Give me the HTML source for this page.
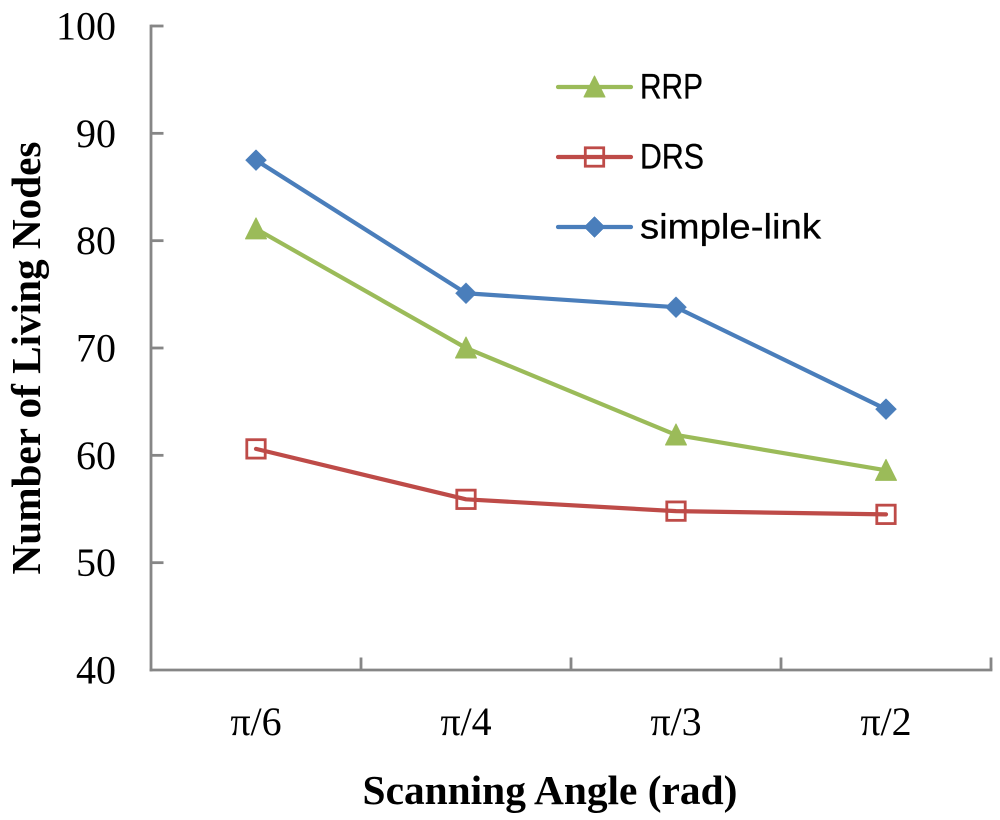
<!DOCTYPE html>
<html lang="en">
<head>
<meta charset="utf-8">
<title>Number of Living Nodes vs Scanning Angle</title>
<style>
html,body{margin:0;padding:0;background:#fff;width:1000px;height:820px;overflow:hidden}
svg{display:block}
.serif{font-family:"Liberation Serif",serif;fill:#000}
.sans{font-family:"Liberation Sans",sans-serif;fill:#000;stroke:#000;stroke-width:0.3}
</style>
</head>
<body>
<svg id="chart" xmlns="http://www.w3.org/2000/svg" width="1000" height="820" viewBox="0 0 1000 820">
  <g id="marks"></g>
  <text class="serif" x="550" y="804" font-size="41.4" font-weight="bold" text-anchor="middle">Scanning Angle (rad)</text>
  <text class="serif" transform="translate(40,358) rotate(-90)" font-size="41.2" font-weight="bold" text-anchor="middle">Number of Living Nodes</text>
</svg>
<script>
const categories = ['π/6', 'π/4', 'π/3', 'π/2'];
const yTicks = [40, 50, 60, 70, 80, 90, 100];
const rrpValues = [81.1, 70.0, 61.9, 58.6];
const drsValues = [60.6, 55.9, 54.8, 54.5];
const simpleLinkValues = [87.5, 75.1, 73.8, 64.3];
const seriesNames = ['RRP', 'DRS', 'simple-link'];

const NS = 'http://www.w3.org/2000/svg';
const root = document.getElementById('marks');
const left = 151, right = 991, top_ = 26, bottom = 670;
const yMin = 40, yMax = 100;
const band = (right - left) / categories.length;
const xScale = i => left + band * (i + 0.5);
const yScale = v => bottom - (v - yMin) / (yMax - yMin) * (bottom - top_);

function make(tag, attrs, parent) {
  const el = document.createElementNS(NS, tag);
  for (const k in attrs) el.setAttribute(k, attrs[k]);
  (parent || root).appendChild(el);
  return el;
}

const AXIS = '#868686';
const AXIS_W = 2.8;
const yAxis = make('line', {x1: left, y1: top_ - 1.4, x2: left, y2: bottom + 1.4, stroke: AXIS, 'stroke-width': AXIS_W});


const xAxis = make('line', {x1: left - 1.4, y1: bottom, x2: right + 1.4, y2: bottom, stroke: AXIS, 'stroke-width': AXIS_W});



yTicks.forEach(t => {
  const y = yScale(t);
  if (t !== yMin) {
    const tick = make('line', {x1: left, y1: y, x2: left + 12.5, y2: y, stroke: AXIS, 'stroke-width': AXIS_W});
    
    
  }
  const label = make('text', {x: 116, y: y + 13.5, class: 'serif', 'font-size': 40, 'text-anchor': 'end'});
  
  
  label.textContent = t;
});

categories.forEach((c, i) => {
  const x = left + band * (i + 1);
  const tick = make('line', {x1: x, y1: bottom, x2: x, y2: bottom - 12.5, stroke: AXIS, 'stroke-width': AXIS_W});
  
  
  const label = make('text', {x: xScale(i), y: 735, class: 'serif', 'font-size': 40, 'text-anchor': 'middle'});
  
  
  label.textContent = c;
});

function marker(kind, x, y, color, parent) {
  if (kind === 'triangle') {
    return make('polygon', {points: `${x},${y - 11} ${x + 10.5},${y + 10} ${x - 10.5},${y + 10}`, fill: color, stroke: color, 'stroke-width': 1, 'stroke-linejoin': 'round'}, parent);
  }
  if (kind === 'square') {
    return make('rect', {x: x - 9.2, y: y - 9.2, width: 18.4, height: 18.4, fill: 'none', stroke: color, 'stroke-width': 2.8}, parent);
  }
  return make('polygon', {points: `${x},${y - 10.5} ${x + 10.5},${y} ${x},${y + 10.5} ${x - 10.5},${y}`, fill: color, stroke: color, 'stroke-width': 0.5, 'stroke-linejoin': 'round'}, parent);
}

function drawSeries(name, values, color, kind) {
  const g = make('g', {});
  
  
  const pts = values.map((v, i) => xScale(i) + ',' + yScale(v)).join(' ');
  const line = make('polyline', {points: pts, fill: 'none', stroke: color, 'stroke-width': 4.2, 'stroke-linejoin': 'round', 'stroke-linecap': 'round'}, g);
  
  
  values.forEach((v, i) => {
    const m = marker(kind, xScale(i), yScale(v), color, g);
    
    
  });
}

const colors = ['#9BBB59', '#BE4B48', '#4A7EBB'];
const kinds = ['triangle', 'square', 'diamond'];
drawSeries(seriesNames[0], rrpValues, colors[0], kinds[0]);
drawSeries(seriesNames[1], drsValues, colors[1], kinds[1]);
drawSeries(seriesNames[2], simpleLinkValues, colors[2], kinds[2]);

const legendWidths = [63, 64, 181];
seriesNames.forEach((n, i) => {
  const y = 87 + i * 70;
  const g = make('g', {});
  
  
  const line = make('line', {x1: 558, y1: y, x2: 631, y2: y, stroke: colors[i], 'stroke-width': 4.2, 'stroke-linecap': 'round'}, g);
  
  
  const m = marker(kinds[i], 594.5, y, colors[i], g);
  
  
  const t = make('text', {x: 640, y: y + 11.5, class: 'sans', 'font-size': 35, textLength: legendWidths[i], lengthAdjust: 'spacingAndGlyphs'}, g);
  
  
  t.textContent = n;
});
</script>
</body>
</html>
